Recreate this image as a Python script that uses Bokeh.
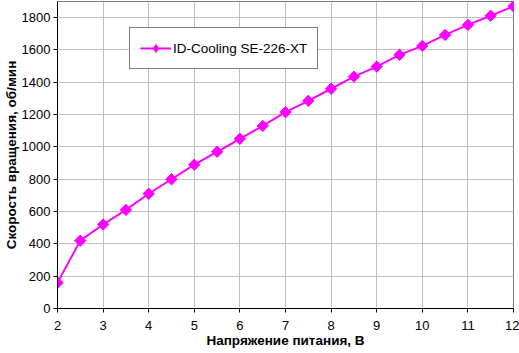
import math
from bokeh.plotting import figure
from bokeh.models import FixedTicker, Range1d, Legend, LegendItem
from bokeh.embed import file_html
from bokeh.resources import INLINE

voltage = [2, 2.5, 3, 3.5, 4, 4.5, 5, 5.5, 6, 6.5, 7, 7.5, 8, 8.5, 9, 9.5, 10, 10.5, 11, 11.5, 12]
rpm = [160, 420, 520, 610, 710, 800, 890, 970, 1050, 1130, 1215, 1285, 1360, 1435, 1497, 1570, 1625, 1693, 1755, 1812, 1870]
series_name = "ID-Cooling SE-226-XT"
x_ticks = [2, 3, 4, 5, 6, 7, 8, 9, 10, 11, 12]
y_ticks = [0, 200, 400, 600, 800, 1000, 1200, 1400, 1600, 1800]

FONT = "Liberation Sans"

p = figure(width=519, height=353, output_backend="svg", toolbar_location=None,
           x_range=Range1d(2, 12), y_range=Range1d(0, 1900),
           min_border_left=57, min_border_right=6, min_border_top=1, min_border_bottom=45)
p.background_fill_color = "white"
p.border_fill_color = "white"
p.outline_line_color = "#808080"
p.outline_line_width = 1

for ax in (p.xaxis[0], p.yaxis[0]):
    ax.axis_line_color = "black"
    ax.axis_line_width = 1
    ax.major_tick_line_color = "black"
    ax.major_tick_out = 4
    ax.major_tick_in = 0
    ax.minor_tick_line_color = None
    ax.major_label_text_font = FONT
    ax.major_label_text_font_size = "13px"
    ax.major_label_text_color = "black"
    ax.axis_label_text_font = FONT
    ax.axis_label_text_font_size = "13.5px"
    ax.axis_label_text_font_style = "bold"
    ax.axis_label_text_color = "black"

p.xaxis.ticker = FixedTicker(ticks=x_ticks)
p.yaxis.ticker = FixedTicker(ticks=y_ticks)
p.xaxis.axis_label = "Напряжение питания, В"
p.yaxis.axis_label = "Скорость вращения, об/мин"
p.xaxis.major_label_standoff = 8
p.yaxis.major_label_standoff = 3
p.xaxis.axis_label_standoff = 0
p.yaxis.axis_label_standoff = 0

p.xgrid.ticker = FixedTicker(ticks=x_ticks)
p.ygrid.ticker = FixedTicker(ticks=y_ticks)
p.grid.grid_line_color = "#c0c0c0"
p.grid.grid_line_width = 1

ln = p.line(voltage, rpm, line_color="#ff00ff", line_width=2)
# diamond glyph hidden under the rotated squares; used for the legend swatch
leg_glyph = p.scatter(voltage, rpm, marker="diamond", size=10,
                      fill_color="#ff00ff", line_color="#ff00ff")
sc = p.scatter(voltage, rpm, marker="square", size=8, angle=math.pi / 4,
               fill_color="#ff00ff", line_color="#ff00ff")

legend = Legend(items=[LegendItem(label=series_name, renderers=[ln, leg_glyph])],
                location=(72, 239))
legend.border_line_color = "black"
legend.border_line_width = 1
legend.background_fill_color = "white"
legend.background_fill_alpha = 1
legend.label_text_font = FONT
legend.label_text_font_size = "13.5px"
legend.label_text_color = "black"
legend.glyph_width = 31
legend.glyph_height = 20
legend.padding = 10
legend.margin = 0
legend.label_standoff = 2
legend.label_width = 120
p.add_layout(legend, "center")

open("out.html", "w").write(file_html(p, INLINE))
